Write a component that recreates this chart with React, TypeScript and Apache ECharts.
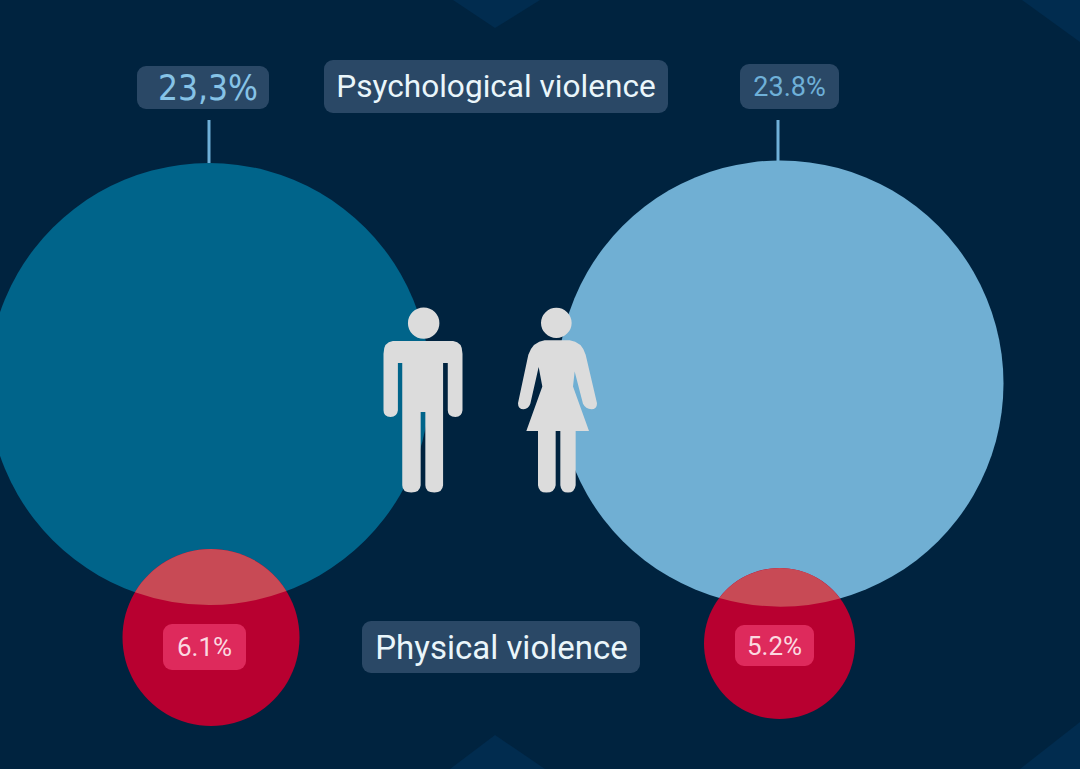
import React, { useEffect, useRef } from "react";
import * as echarts from "echarts";

const groups = ["Men", "Women"];
const psychological = [23.3, 23.8];
const physical = [6.1, 5.2];
const psychologicalLabels = ["23,3%", "23.8%"];
const physicalLabels = ["6.1%", "5.2%"];
const seriesTitles = ["Psychological violence", "Physical violence"];

const psychCentre = [[209, 384], [780.5, 383.5]];
const psychDiameter = [442, 446];
const physCentre = [[211, 637.5], [779.5, 643.5]];
const physDiameter = [177, 151];
const personCentre = [[423, 400], [557.5, 400]];
const personSize = [[79, 185], [79, 185]];

const COLORS = {
  bg: "#00233f",
  deco: "#012c4f",
  men: "#00648a",
  women: "#70afd3",
  red: "#b80030",
  lens: "#c84a55",
  person: "#dcdcdc",
  box: "#2a4866",
  redBox: "#de2a5c",
};

const MAN =
  "path://M145 98A47 47 0 1 0 239 98A47 47 0 1 0 145 98Z" +
  "M100 152L280 152Q308 155 308 190L308 360Q306 380 287 380Q264 380 264 360L264 218L250 218L250 585Q248 607 224 607Q197 607 197 585L197 365L183 365L183 585Q181 607 155 607Q128 607 128 585L128 218L115 218L115 360Q113 380 93 380Q72 380 72 360L72 190Q72 155 100 152Z";
const WOMAN =
  "path://M544 100A46 46 0 1 0 636 100A46 46 0 1 0 544 100Z" +
  "M555 152L630 152Q666 156 678 195L712 340Q712 358 695 358Q678 358 670 342L645 245L640 290L688 423L648 423L648 585Q645 607 625 607Q604 607 602 585L602 423L588 423L588 585Q585 607 560 607Q537 607 535 585L535 423L500 423L548 290L537 232L512 342Q506 358 492 358Q475 358 475 340L506 195Q520 156 555 152Z";

function lensPath(c1: number[], r1: number, c2: number[], r2: number) {
  const dx = c2[0] - c1[0];
  const dy = c2[1] - c1[1];
  const d = Math.hypot(dx, dy);
  const a = (d * d + r1 * r1 - r2 * r2) / (2 * d);
  const h = Math.sqrt(r1 * r1 - a * a);
  const mx = c1[0] + (a * dx) / d;
  const my = c1[1] + (a * dy) / d;
  const p1 = [mx - (h * dy) / d, my + (h * dx) / d];
  const p2 = [mx + (h * dy) / d, my - (h * dx) / d];
  const [l, r] = p1[0] < p2[0] ? [p1, p2] : [p2, p1];
  return `M${l[0]} ${l[1]}A${r1} ${r1} 0 0 0 ${r[0]} ${r[1]}A${r2} ${r2} 0 0 0 ${l[0]} ${l[1]}Z`;
}

export default function App() {
  const ref = useRef<HTMLDivElement>(null);
  useEffect(() => {
    document.body.style.margin = "0";
    const chart = echarts.init(ref.current!, null, { renderer: "svg" });

    const valueLabel = (
      text: string, w: number, h: number, dx: number, dy: number,
      size: number, color: string, box: string, family = "Roboto", padLeft = 0
    ) => ({
      show: true,
      formatter: text,
      position: "inside",
      offset: [dx, dy],
      width: w - padLeft,
      height: h,
      lineHeight: h,
      padding: [0, 0, 0, padLeft],
      align: "center",
      verticalAlign: "middle",
      fontSize: size,
      fontFamily: family,
      color,
      backgroundColor: box,
      borderRadius: 9,
    });

    const titleText = (text: string, x: number, y: number, w: number, h: number, tx: number, size: number) => ({
      type: "group",
      z: 20,
      children: [
        { type: "rect", z: 20, shape: { x: x - w / 2, y: y - h / 2, width: w, height: h, r: 9 }, style: { fill: COLORS.box } },
        {
          type: "text", z: 21, x: tx, y,
          style: { text, fill: "#eaf6fb", font: `${size}px Roboto`, textAlign: "center", textVerticalAlign: "middle" },
        },
      ],
    });

    chart.setOption({
      animation: false,
      backgroundColor: COLORS.bg,
      tooltip: { show: false },
      grid: { left: 0, right: 0, top: 0, bottom: 0 },
      xAxis: { type: "value", min: 0, max: 1080, show: false },
      yAxis: { type: "value", min: 0, max: 769, inverse: true, show: false },
      graphic: [
        ...[
          [[453, 0], [540, 0], [495, 28]],
          [[1022, 0], [1080, 0], [1080, 42]],
          [[450, 769], [545, 769], [495, 735]],
          [[1020, 769], [1080, 769], [1080, 722]],
        ].map((points) => ({
          type: "polygon", z: 0, silent: true, shape: { points }, style: { fill: COLORS.deco },
        })),
        { type: "line", z: 1, shape: { x1: 209, y1: 120, x2: 209, y2: 163 }, style: { stroke: "#6fb0d8", lineWidth: 3 } },
        { type: "line", z: 1, shape: { x1: 778, y1: 120, x2: 778, y2: 161 }, style: { stroke: "#6fb0d8", lineWidth: 3 } },
        titleText(seriesTitles[0], 496, 86.5, 344, 53, 496, 31.6),
        titleText(seriesTitles[1], 501, 647, 278, 52, 501.5, 33),
      ],
      series: [
        {
          name: seriesTitles[0],
          type: "scatter",
          z: 3,
          silent: true,
          clip: false,
          symbol: "circle",
          data: groups.map((g, i) => ({
            name: g,
            value: [...psychCentre[i], psychological[i]],
            symbolSize: psychDiameter[i],
            itemStyle: { color: i === 0 ? COLORS.men : COLORS.women, opacity: 1 },
            label: i === 0
              ? valueLabel(psychologicalLabels[0], 132, 43, -6, -296.5, 35, "#86c3e6", COLORS.box, "DejaVu Sans Condensed", 10)
              : valueLabel(psychologicalLabels[1], 99, 45, 9, -297, 27, "#6fb0d8", COLORS.box),
          })),
        },
        {
          name: seriesTitles[1],
          type: "scatter",
          z: 4,
          silent: true,
          clip: false,
          symbol: "circle",
          data: groups.map((g, i) => ({
            name: g,
            value: [...physCentre[i], physical[i]],
            symbolSize: physDiameter[i],
            itemStyle: { color: COLORS.red, opacity: 1 },
            label: i === 0
              ? valueLabel(physicalLabels[0], 83, 46, -6.5, 9.5, 26, "#fbd9e0", COLORS.redBox)
              : valueLabel(physicalLabels[1], 79, 41, -5, 2, 26, "#fbd9e0", COLORS.redBox),
          })),
        },
        {
          name: "Overlap",
          type: "custom",
          z: 5,
          silent: true,
          clip: false,
          coordinateSystem: "cartesian2d",
          data: groups.map((_, i) => [...physCentre[i], i]),
          renderItem: (params: any, api: any) => {
            const i = api.value(2);
            const c1 = api.coord(psychCentre[i]);
            const c2 = api.coord(physCentre[i]);
            return {
              type: "path",
              shape: { pathData: lensPath(c1, psychDiameter[i] / 2, c2, physDiameter[i] / 2) },
              style: { fill: COLORS.lens },
            };
          },
        },
        {
          name: "People",
          type: "scatter",
          z: 6,
          silent: true,
          clip: false,
          data: groups.map((g, i) => ({
            name: g,
            value: personCentre[i],
            symbol: i === 0 ? MAN : WOMAN,
            symbolSize: personSize[i],
            symbolKeepAspect: false,
            itemStyle: { color: COLORS.person, opacity: 1 },
          })),
        },
      ],
    });
    return () => chart.dispose();
  }, []);
  return <div ref={ref} style={{ width: 1080, height: 769 }} />;
}
